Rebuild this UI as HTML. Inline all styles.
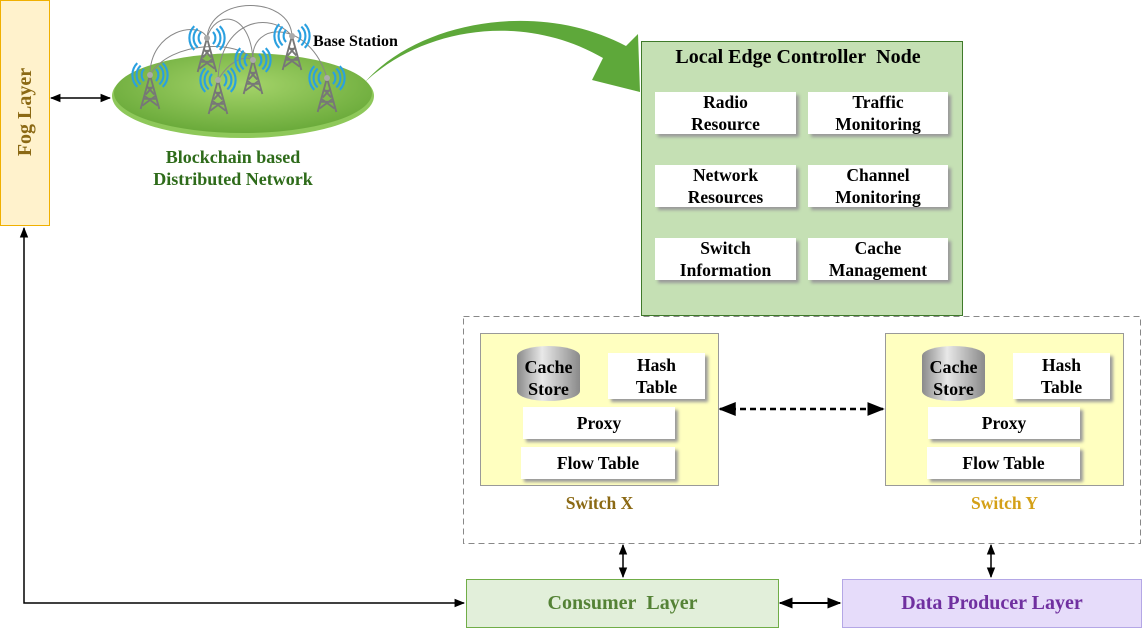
<!DOCTYPE html>
<html><head><meta charset="utf-8"><style>
body{margin:0;width:1142px;height:629px;position:relative;background:#fff;font-family:"Liberation Serif",serif;font-weight:bold;overflow:hidden}
.a{position:absolute;box-sizing:border-box}
.w{position:absolute;background:#fff;box-shadow:3px 3px 3px #9a9a9a;text-align:center;font-size:17.5px;line-height:22px;color:#000;display:flex;align-items:center;justify-content:center}
</style></head><body>
<svg class="a" style="left:0;top:0" width="1142" height="629">
<defs>
<marker id="m" viewBox="0 0 10 10" refX="9" refY="5" markerWidth="7" markerHeight="7" orient="auto-start-reverse"><path d="M0,1 L10,5 L0,9 z" fill="#000"/></marker>
<radialGradient id="g" cx="0.5" cy="0.4" r="0.6"><stop offset="0" stop-color="#a5d46a"/><stop offset="1" stop-color="#6aaa3a"/></radialGradient>
<g id="t" transform="scale(0.85)"><path d="M0,0 L-11,40 M0,0 L11,40 M-7,28 L7,28 M-4,15 L4,15 M-9,36 L6,25 M9,36 L-6,25 M-5,23 L4,13 M5,23 L-4,13" stroke="#777" stroke-width="2.2" fill="none"/><circle cx="0" cy="0" r="3.5" fill="#aaa"/>
<path d="M-7,-7 A10,10 0 0 0 -7,7 M7,-7 A10,10 0 0 1 7,7 M-11,-11 A15,15 0 0 0 -11,11 M11,-11 A15,15 0 0 1 11,11 M-15,-14 A20,20 0 0 0 -15,14 M15,-14 A20,20 0 0 1 15,14" stroke="#2aa0e0" stroke-width="2.5" fill="none"/></g>
</defs>
<ellipse cx="243" cy="96" rx="131" ry="42" fill="#8ec85a"/>
<ellipse cx="243" cy="93" rx="129" ry="40" fill="url(#g)"/>
<g stroke="#888" fill="none" stroke-width="1">
<path d="M150,75 C150,30 200,20 207,38"/><path d="M207,38 C210,-5 290,-5 292,36"/><path d="M218,80 C220,20 270,10 292,36"/><path d="M253,60 C250,20 310,20 327,78"/><path d="M150,75 C170,40 240,40 253,60"/><path d="M218,80 C230,60 245,55 253,60"/><path d="M207,38 C215,10 250,10 253,60"/>
</g>
<use href="#t" x="207" y="38"/><use href="#t" x="292" y="36"/><use href="#t" x="253" y="60"/><use href="#t" x="150" y="75"/><use href="#t" x="218" y="80"/><use href="#t" x="327" y="78"/>
<path d="M365,82 C420,30 520,10 603,58 L592,80 L640,92 L638,34 L626,46 C540,0 420,20 365,82 z" fill="#5ea83a"/>
<line x1="51" y1="98" x2="110" y2="98" stroke="#000" stroke-width="1.5" marker-start="url(#m)" marker-end="url(#m)"/>
<polyline points="24,228 24,603 464,603" fill="none" stroke="#000" stroke-width="1.5" marker-start="url(#m)" marker-end="url(#m)"/>
<rect x="463.5" y="316.5" width="677" height="227" fill="none" stroke="#888" stroke-dasharray="6,4"/>
<line x1="720" y1="409" x2="883" y2="409" stroke="#000" stroke-width="2.5" stroke-dasharray="6,4" marker-start="url(#m)" marker-end="url(#m)"/>
<line x1="623" y1="545" x2="623" y2="577" stroke="#000" stroke-width="1.5" marker-start="url(#m)" marker-end="url(#m)"/>
<line x1="991" y1="545" x2="991" y2="577" stroke="#000" stroke-width="1.5" marker-start="url(#m)" marker-end="url(#m)"/>
<line x1="780" y1="603" x2="840" y2="603" stroke="#000" stroke-width="2" marker-start="url(#m)" marker-end="url(#m)"/>
</svg>
<div class="a" style="left:0;top:0;width:50px;height:226px;background:#fff2cc;border:1px solid #f0b000"></div>
<div class="a" style="left:-88px;top:100px;width:226px;height:24px;transform:rotate(-90deg);text-align:center;color:#8b6914;font-size:20px;line-height:24px">Fog Layer</div>
<div class="a" style="left:313px;top:33px;font-size:16px">Base Station</div>
<div class="a" style="left:110px;top:146px;width:246px;text-align:center;color:#2e6b1a;font-size:18px;line-height:22px">Blockchain based<br>Distributed Network</div>
<div class="a" style="left:641px;top:41px;width:322px;height:275px;background:#c5e0b4;border:1px solid #3f7a2a"></div>
<div class="a" style="left:641px;top:46px;width:314px;text-align:center;font-size:20px">Local Edge Controller&nbsp; Node</div>
<div class="w" style="left:655px;top:92px;width:141px;height:42px">Radio<br>Resource</div>
<div class="w" style="left:808px;top:92px;width:140px;height:42px">Traffic<br>Monitoring</div>
<div class="w" style="left:655px;top:165px;width:141px;height:42px">Network<br>Resources</div>
<div class="w" style="left:808px;top:165px;width:140px;height:42px">Channel<br>Monitoring</div>
<div class="w" style="left:655px;top:238px;width:141px;height:42px">Switch<br>Information</div>
<div class="w" style="left:808px;top:238px;width:140px;height:42px">Cache<br>Management</div>

<div class="a" style="left:480px;top:333px;width:239px;height:153px;background:#ffffc0;border:1px solid #999"></div>
<div class="a" style="left:885px;top:333px;width:239px;height:153px;background:#ffffc0;border:1px solid #999"></div>
<div class="a" style="left:517px;top:346px;width:63px;height:55px;border-radius:50%/10px;background:linear-gradient(90deg,#8a8a8a,#e8e8e8 40%,#8a8a8a)"></div>
<div class="a" style="left:922px;top:346px;width:63px;height:55px;border-radius:50%/10px;background:linear-gradient(90deg,#8a8a8a,#e8e8e8 40%,#8a8a8a)"></div>
<div class="a" style="left:512px;top:356px;width:73px;text-align:center;font-size:18px;line-height:22px">Cache<br>Store</div>
<div class="a" style="left:917px;top:356px;width:73px;text-align:center;font-size:18px;line-height:22px">Cache<br>Store</div>
<div class="w" style="left:608px;top:353px;width:97px;height:46px">Hash<br>Table</div>
<div class="w" style="left:1013px;top:353px;width:97px;height:46px">Hash<br>Table</div>
<div class="w" style="left:523px;top:407px;width:152px;height:32px">Proxy</div>
<div class="w" style="left:928px;top:407px;width:152px;height:32px">Proxy</div>
<div class="w" style="left:521px;top:447px;width:154px;height:32px">Flow Table</div>
<div class="w" style="left:927px;top:447px;width:153px;height:32px">Flow Table</div>
<div class="a" style="left:480px;top:493px;width:239px;text-align:center;color:#8b6914;font-size:17.5px">Switch X</div>
<div class="a" style="left:885px;top:493px;width:239px;text-align:center;color:#d4a017;font-size:17.5px">Switch Y</div>

<div class="a" style="left:466px;top:579px;width:313px;height:49px;background:#e2efda;border:1px solid #70ad47;text-align:center;line-height:47px;color:#548235;font-size:20px">Consumer&nbsp; Layer</div>
<div class="a" style="left:842px;top:579px;width:300px;height:49px;background:#e6dcfa;border:1px solid #b4a7e6;text-align:center;line-height:47px;color:#7030a0;font-size:20px">Data Producer Layer</div>
</body></html>
